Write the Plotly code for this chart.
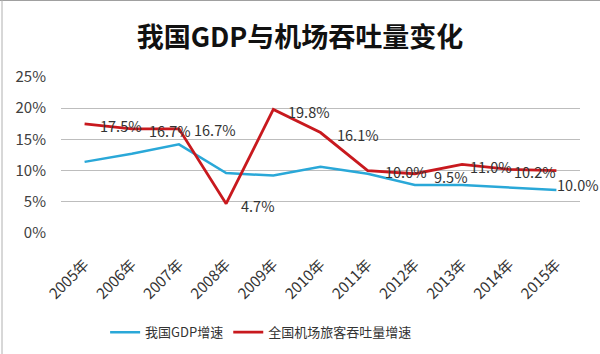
import plotly.graph_objects as go

years = ["2005年", "2006年", "2007年", "2008年", "2009年", "2010年",
         "2011年", "2012年", "2013年", "2014年", "2015年"]
gdp_growth = [11.4, 12.7, 14.2, 9.6, 9.2, 10.6, 9.5, 7.7, 7.7, 7.3, 6.9]
airport_growth = [17.5, 16.7, 16.7, 4.7, 19.8, 16.1, 10.0, 9.5, 11.0, 10.2, 10.0]
# label offsets (pixels) relative to each red point
label_dx = [13, 15, 13, 13, 13, 14, 15, 17, 6, 3, -1]
label_dy = [-2, -2, -1, -2, -2, -2, -1, -3, -2, -2, -14]

FONT = "Noto Sans CJK SC, Microsoft YaHei, sans-serif"

fig = go.Figure()
fig.add_trace(go.Scatter(
    x=years, y=gdp_growth, mode="lines", name="我国GDP增速",
    line=dict(color="#2AA8D8", width=2.5),
))
fig.add_trace(go.Scatter(
    x=years, y=airport_growth, mode="lines", name="全国机场旅客吞吐量增速",
    line=dict(color="#C8191E", width=2.8),
))

for yr, v, dx, dy in zip(years, airport_growth, label_dx, label_dy):
    fig.add_annotation(
        x=yr, y=v, text=f"{v:.1f}%", showarrow=False,
        xanchor="left", yanchor="middle", xshift=dx, yshift=dy,
        font=dict(family=FONT, size=14.5, color="#333333"),
    )

fig.update_layout(
    width=600, height=354,
    margin=dict(l=61, r=20, t=77, b=121, autoexpand=False),
    paper_bgcolor="white", plot_bgcolor="white",
    font=dict(family=FONT, color="#404040"),
    title=dict(text="<b>我国GDP与机场吞吐量变化</b>", x=0.5, xanchor="center",
               y=0.895, yanchor="middle",
               font=dict(family=FONT, size=27, color="#111111")),
    showlegend=True,
    legend=dict(orientation="h", x=0.085, xanchor="left", y=-0.54, yanchor="top",
                font=dict(family=FONT, size=13, color="#333333"),
                itemwidth=30, tracegroupgap=0),
    shapes=[
        dict(type="line", xref="paper", yref="paper", x0=-61/519, x1=1+20/519,
             y0=1+77/156, y1=1+77/156, line=dict(color="#A0A0A0", width=2)),
        dict(type="line", xref="paper", yref="paper", x0=-59/519, x1=-59/519,
             y0=-121/156, y1=1+77/156, line=dict(color="#B0B0B0", width=1)),
    ],
)
fig.update_xaxes(
    type="category", range=[-0.5, len(years) - 0.5], tickangle=-45,
    showgrid=False, showline=False, ticks="",
    automargin=False, ticklabelstandoff=19,
    tickfont=dict(family=FONT, size=15, color="#333333"),
)
fig.update_yaxes(
    range=[0, 25], dtick=5, ticksuffix="%", showgrid=True, gridcolor="#BDBDBD",
    gridwidth=1, zeroline=False, showline=False, automargin=False,
    ticklabelstandoff=14,
    tickfont=dict(family=FONT, size=15, color="#404040"),
)

fig.write_html("out.html")
